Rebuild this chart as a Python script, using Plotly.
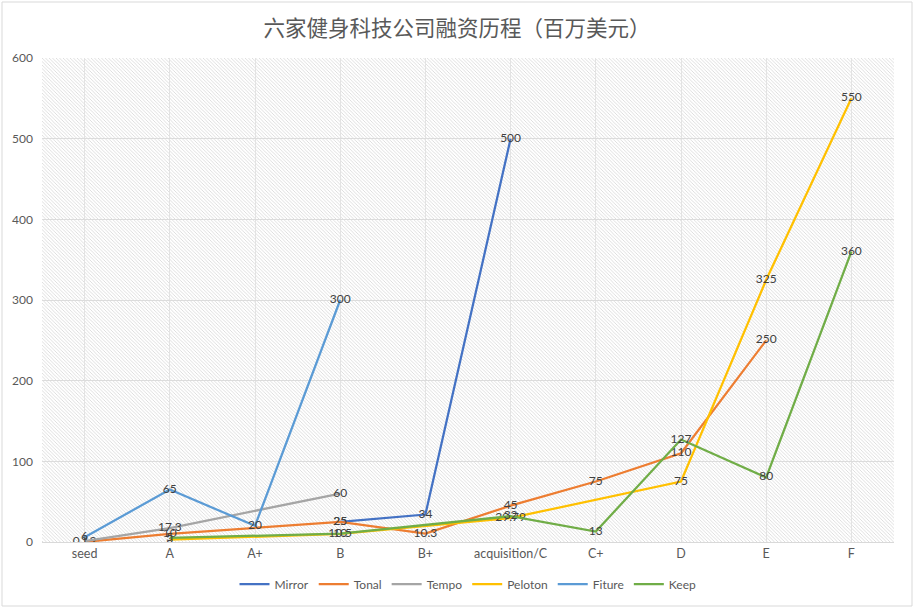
import base64
import plotly.graph_objects as go

stages = ['seed', 'A', 'A+', 'B', 'B+', 'acquisition/C', 'C+', 'D', 'E', 'F']

mirror = [None, None, None, 25, 34, 500, None, None, None, None]
tonal = [0.12, 10, None, 25, 10.3, 45, 75, 110, 250, None]
tempo = [1, 17.3, None, 60, None, None, None, None, None, None]
peloton = [None, 3, None, 10, None, 29.79, None, 75, 325, 550]
fiture = [6, 65, 20, 300, None, None, None, None, None, None]
keep = [None, 5, None, 10.5, None, 32, 13, 127, 80, 360]

series = [
    ('Mirror', mirror, '#4472C4'),
    ('Tonal', tonal, '#ED7D31'),
    ('Tempo', tempo, '#A5A5A5'),
    ('Peloton', peloton, '#FFC000'),
    ('Fiture', fiture, '#5B9BD5'),
    ('Keep', keep, '#70AD47'),
]

W, H = 914, 608
ml, mr, mt, mb = 42, 20, 58, 66

# diagonal hatch for the plot background, like the excel chart
hatch = ('<svg xmlns="http://www.w3.org/2000/svg" width="852" height="484">'
         '<defs><pattern id="p" width="3.5" height="3.5" patternUnits="userSpaceOnUse">'
         '<path d="M-1,-1 L4.5,4.5 M-1,2.5 L1,4.5 M2.5,-1 L4.5,1" stroke="#d6d6d6" stroke-width="0.8"/>'
         '</pattern></defs><rect width="852" height="484" fill="url(#p)"/></svg>')
hatch_uri = 'data:image/svg+xml;base64,' + base64.b64encode(hatch.encode()).decode()

fig = go.Figure()
for name, vals, color in series:
    fig.add_trace(go.Scatter(
        x=stages, y=vals, name=name,
        mode='lines+text',
        text=['' if v is None else f'{v:g}' for v in vals],
        textposition='middle center',
        textfont=dict(size=12, color='#404040'),
        line=dict(color=color, width=2.25),
        connectgaps=True,
    ))

pw = W - ml - mr
ph = H - mt - mb
fig.update_layout(
    width=W, height=H,
    paper_bgcolor='white',
    plot_bgcolor='white',
    font=dict(family='Lato, Carlito, sans-serif', size=12, color='#595959'),
    margin=dict(l=ml, r=mr, t=mt, b=mb, autoexpand=False),
    title=dict(text='六家健身科技公司融资历程（百万美元）',
               x=0.5, xanchor='center', y=1 - 28 / H, yanchor='middle',
               font=dict(family='Noto Sans CJK SC', size=21.5, color='#595959')),
    xaxis=dict(type='category', categoryorder='array', categoryarray=stages,
               range=[-0.5, len(stages) - 0.5], automargin=False,
               showgrid=True, gridcolor='#e3e3e3', gridwidth=1,
               showline=True, linecolor='#d9d9d9', zeroline=False,
               ticks='', tickfont=dict(size=12.5, color='#595959')),
    xaxis2=dict(overlaying='x', anchor='y', range=[-0.5, len(stages) - 0.5],
                dtick=0.5, tick0=-0.5, showgrid=True, gridcolor='#e3e3e3',
                showticklabels=False, zeroline=False, ticks='', automargin=False),
    yaxis=dict(range=[0, 600], dtick=100, showgrid=True, gridcolor='#dcdcdc',
               zeroline=False, showline=False, ticks='', ticklabelstandoff=8,
               automargin=False, tickfont=dict(size=12, color='#595959')),
    legend=dict(orientation='h', x=0.5, xanchor='center', y=-(584 - mt - ph) / ph,
                yanchor='middle', font=dict(size=12, color='#595959'),
                itemwidth=30, bgcolor='rgba(0,0,0,0)'),
    showlegend=True,
    images=[dict(source=hatch_uri, xref='paper', yref='paper', x=0, y=1,
                 sizex=1, sizey=1, sizing='stretch', layer='below',
                 xanchor='left', yanchor='top')],
    shapes=[dict(type='rect', xref='paper', yref='paper',
                 x0=-(ml - 2) / pw, x1=1 + (mr - 2) / pw,
                 y0=-(mb - 2) / ph, y1=1 + (mt - 2) / ph,
                 line=dict(color='#d9d9d9', width=1))],
)

# drop the default 8px page margin so the chart sits at the window's corner
fig.write_html('out.html', config={'displayModeBar': False},
               post_script="document.body.style.margin='0';")
